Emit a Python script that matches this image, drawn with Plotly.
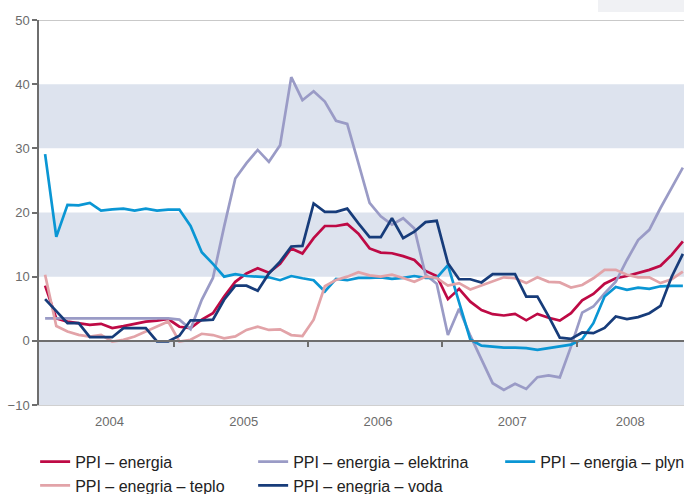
import plotly.graph_objects as go

years = ["2004", "2005", "2006", "2007", "2008"]
months = [f"{y}-{m:02d}" for y in range(2004, 2009) for m in range(1, 13)][:58]

energia = [8.6, 3.5, 3.0, 2.75, 2.5, 2.65, 2.0, 2.3, 2.65, 3.0, 3.15, 3.4,
           2.2, 2.0, 3.3, 4.3, 6.9, 9.2, 10.5, 11.3, 10.6, 12.0, 14.4, 13.6,
           16.0, 17.9, 17.9, 18.2, 16.7, 14.4, 13.75, 13.65, 13.2, 12.6, 10.9, 10.1,
           6.5, 8.1, 6.1, 4.8, 4.15, 3.95, 4.2, 3.2, 4.2, 3.6, 3.15, 4.3,
           6.3, 7.3, 8.9, 9.75, 10.1, 10.6, 11.06, 11.7, 13.4, 15.5]

elektrina = [3.5, 3.5, 3.5, 3.5, 3.5, 3.5, 3.5, 3.5, 3.5, 3.5, 3.5, 3.5,
             3.3, 1.8, 6.4, 9.8, 17.8, 25.3, 27.7, 29.75, 27.9, 30.5, 41.1, 37.5,
             38.9, 37.3, 34.3, 33.8, 27.7, 21.5, 19.4, 18.1, 19.1, 17.5, 10.3, 8.9,
             0.9, 5.0, 0.8, -3.0, -6.6, -7.65, -6.7, -7.5, -5.66, -5.4, -5.7, -0.9,
             4.4, 5.35, 7.4, 9.2, 12.6, 15.7, 17.3, 20.7, 23.8, 27.0]

plyn = [29.1, 16.2, 21.2, 21.1, 21.5, 20.3, 20.5, 20.6, 20.3, 20.6, 20.3, 20.45,
        20.45, 17.9, 13.8, 12.0, 10.0, 10.4, 10.1, 10.0, 9.9, 9.45, 10.1, 9.75,
        9.45, 7.7, 9.66, 9.45, 9.8, 9.8, 9.9, 9.66, 9.8, 10.1, 9.8, 9.8,
        11.8, 6.0, 0.2, -0.75, -0.9, -1.05, -1.05, -1.15, -1.4, -1.15, -0.9, -0.6,
        0.26, 2.75, 6.9, 8.4, 7.95, 8.3, 8.1, 8.5, 8.55, 8.55]

teplo = [10.3, 2.3, 1.45, 0.93, 0.67, 0.93, -0.1, 0.16, 0.67, 1.45, 2.2, 3.0,
         -0.1, 0.16, 1.1, 0.9, 0.4, 0.7, 1.7, 2.2, 1.7, 1.8, 0.9, 0.75,
         3.3, 8.5, 9.5, 10.0, 10.7, 10.2, 10.0, 10.3, 9.8, 9.2, 10.0, 9.8,
         8.6, 9.0, 8.0, 8.6, 9.2, 9.9, 9.75, 9.0, 9.9, 9.2, 9.1, 8.3,
         8.7, 9.75, 11.06, 11.06, 10.3, 9.9, 9.9, 9.0, 9.6, 10.8]

voda = [6.5, 4.6, 2.75, 2.75, 0.57, 0.57, 0.57, 1.97, 1.97, 1.97, -0.1, -0.1,
        0.8, 3.2, 3.2, 3.3, 6.4, 8.6, 8.6, 7.8, 10.5, 12.35, 14.7, 14.8,
        21.4, 20.1, 20.1, 20.6, 18.3, 16.15, 16.15, 19.1, 16.0, 17.0, 18.5, 18.7,
        12.1, 9.6, 9.6, 9.1, 10.4, 10.4, 10.4, 6.9, 6.9, 3.8, 0.5, 0.3,
        1.3, 1.2, 2.0, 3.8, 3.4, 3.7, 4.3, 5.45, 10.0, 13.55]

x = list(range(len(months)))

FONT = "Liberation Sans, Arial, sans-serif"
series = [
    ("PPI – energia", energia, "#be0a45", "legend"),
    ("PPI – energia – elektrina", elektrina, "#9a9bc6", "legend2"),
    ("PPI – energia – plyn", plyn, "#0a96d4", "legend3"),
    ("PPI – enegria – teplo", teplo, "#e2a3a8", "legend"),
    ("PPI – enegria – voda", voda, "#173c7a", "legend2"),
]

fig = go.Figure()
for name, vals, col, lg in series:
    fig.add_trace(go.Scatter(x=x, y=vals, name=name, mode="lines",
                             line=dict(color=col, width=2.7),
                             customdata=months, legend=lg,
                             hovertemplate="%{customdata}: %{y}<extra>" + name + "</extra>"))

# invisible helper trace so that the year-label axis is drawn
fig.add_trace(go.Scatter(x=[x[0]], y=[None], xaxis="x2", yaxis="y", mode="lines",
                         showlegend=False, hoverinfo="skip"))

shapes = []
for y0, y1 in [(30, 40), (10, 20), (-10, 0)]:
    shapes.append(dict(type="rect", xref="paper", yref="y", x0=0, x1=1, y0=y0, y1=y1,
                       fillcolor="#dde3ee", line=dict(width=0), layer="below"))
shapes.append(dict(type="line", xref="paper", yref="y", x0=0, x1=1, y0=50, y1=50,
                   line=dict(color="#c9c9c9", width=2), layer="below"))
shapes.append(dict(type="rect", xref="paper", yref="paper", x0=0.8667, x1=1.0,
                   y0=1.0208, y1=1.06, fillcolor="#f0f1f4", line=dict(width=0)))

xr = [-0.545, 57.1]
legend_common = dict(orientation="v", yanchor="top", xanchor="left",
                     font=dict(family=FONT, size=16, color="#222222"),
                     bgcolor="rgba(0,0,0,0)", tracegroupgap=0)
ly = -0.103

fig.update_layout(
    width=684, height=494,
    margin=dict(l=39, r=0, t=20, b=89, autoexpand=False),
    paper_bgcolor="white", plot_bgcolor="white",
    shapes=shapes,
    showlegend=True,
    legend=dict(x=-0.006, y=ly, **legend_common),
    legend2=dict(x=0.332, y=ly, **legend_common),
    legend3=dict(x=0.715, y=ly, **legend_common),
    xaxis=dict(range=xr, anchor="free", position=10 / 60, showline=True,
               linecolor="#6e6e6e", linewidth=2, ticks="outside", ticklen=5,
               tickwidth=1.5, tickcolor="#6e6e6e",
               tickvals=[11.5, 23.5, 35.5, 47.5], showticklabels=False,
               showgrid=False, zeroline=False),
    xaxis2=dict(range=xr, overlaying="x", anchor="y", side="bottom",
                tickvals=[5.75, 17.75, 29.75, 41.75, 52.3], ticktext=years,
                ticks="", showline=True, linecolor="#d0d0d0", linewidth=1,
                showgrid=False, zeroline=False, ticklabelstandoff=4,
                tickfont=dict(family=FONT, size=13, color="#6b6b6b")),
    yaxis=dict(range=[-10, 50], tickvals=[-10, 0, 10, 20, 30, 40, 50],
               ticks="outside", ticklen=5, tickwidth=1.5, tickcolor="#6e6e6e",
               showline=True, linecolor="#6e6e6e", linewidth=1.5,
               showgrid=False, zeroline=False,
               tickfont=dict(family=FONT, size=13, color="#6b6b6b")),
)

fig.write_html("out.html", config={"displayModeBar": False},
               post_script="document.body.style.margin='0px';"
                           "document.body.style.overflow='hidden';")
